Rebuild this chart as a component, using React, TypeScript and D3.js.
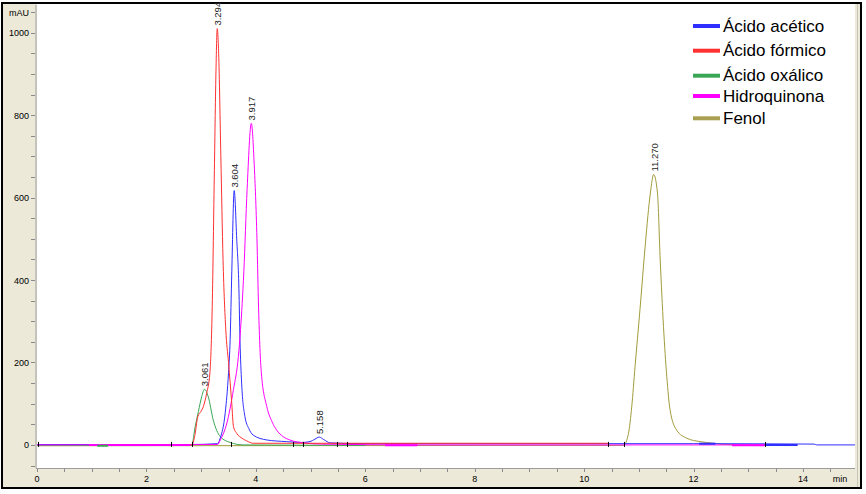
import React from 'react';
import { line, scaleLinear, curveMonotoneX, range } from 'd3';

const ACETICO: [number, number][] = [
  [0, 1], [2.8, 1], [3.3, 3], [3.35, 17], [3.44, 78], [3.5, 175], [3.53, 255], [3.56, 420],
  [3.604, 617], [3.65, 500], [3.69, 380], [3.71, 255], [3.74, 150], [3.8, 69], [3.87, 40],
  [3.95, 24], [4.2, 12], [4.56, 8], [4.84, 6], [4.99, 8], [5.08, 14], [5.158, 19], [5.24, 13],
  [5.36, 5], [6, 3], [10, 3], [12, 3], [14.2, 2], [14.25, 0], [14.95, 0],
];
const FORMICO: [number, number][] = [
  [2.8, 0], [2.83, 0], [2.88, 20], [2.94, 69], [3.0, 82], [3.04, 93], [3.1, 125], [3.16, 175],
  [3.2, 320], [3.24, 650], [3.27, 900], [3.294, 1010], [3.32, 950], [3.36, 700], [3.4, 450],
  [3.45, 280], [3.5, 200], [3.56, 100], [3.59, 45], [3.65, 28], [3.75, 16], [3.83, 10],
  [3.95, 4], [4.2, 4], [10.44, 4],
];
const OXALICO: [number, number][] = [
  [0, -1], [2.8, -1], [2.83, 0], [2.89, 44], [2.95, 81], [3.01, 117], [3.061, 135], [3.13, 117],
  [3.22, 61], [3.35, 20], [3.53, 6], [3.77, 0], [6, -1],
];
const HIDROQUINONA: [number, number][] = [
  [0, 0], [3.3, 1], [3.35, 12], [3.47, 53], [3.59, 134], [3.68, 214], [3.72, 280], [3.78, 420],
  [3.84, 620], [3.917, 780], [3.97, 680], [4.02, 500], [4.05, 330], [4.1, 175], [4.2, 93],
  [4.3, 55], [4.38, 36], [4.5, 20], [4.62, 12], [4.87, 5], [5.2, 2], [7, 0], [13.3, 0],
];
const FENOL: [number, number][] = [
  [0, -2], [10.72, -1], [10.81, 28], [10.87, 93], [10.93, 190], [11.02, 328], [11.12, 490],
  [11.21, 611], [11.27, 656], [11.34, 611], [11.39, 449], [11.45, 287], [11.51, 166],
  [11.57, 85], [11.69, 36], [11.88, 16], [12.12, 8], [12.36, 4], [12.6, 1], [13.9, -1],
];

const SERIES_NAMES = ['Ácido acético', 'Ácido fórmico', 'Ácido oxálico', 'Hidroquinona', 'Fenol'];
const SERIES_COLORS = ['#2f2fff', '#ff3030', '#3aa655', '#ff00ff', '#a09c3c'];
const LEGEND_COLORS = ['#2f2fff', '#ff3030', '#3aa655', '#ff00ff', '#a8a050'];
const SERIES_DATA = [ACETICO, FORMICO, OXALICO, HIDROQUINONA, FENOL];
const DRAW_ORDER = [4, 2, 0, 3, 1];

// etiquetas de tiempo de retencion: [tiempo, altura, texto]
const PEAK_LABELS: [number, number, string][] = [
  [3.294, 1010, '3.294'], [3.917, 780, '3.917'], [3.604, 617, '3.604'],
  [3.061, 135, '3.061'], [5.158, 19, '5.158'], [11.27, 656, '11.270'],
];

// tramos de linea base gruesa: [serie, inicio, fin, valor]
const BASE_SEGMENTS: [number, number, number, number][] = [
  [3, 0.95, 2.8, 0], [2, 1.1, 1.3, -2], [3, 6.36, 6.95, -1], [3, 12.7, 13.3, -1],
  [0, 12.1, 12.4, 3], [0, 13.3, 13.9, 0],
];

// marcas de integracion sobre la linea base
const MARKS = [0.02, 2.45, 2.83, 3.55, 4.67, 4.86, 5.48, 5.66, 10.43, 10.72, 13.3];

const Y_MAJOR = [0, 200, 400, 600, 800, 1000];
const X_MAJOR = [0, 2, 4, 6, 8, 10, 12, 14];

export default function App() {
  const W = 866;
  const H = 494;
  const x = scaleLinear().domain([0, 14.95]).range([37, 855]);
  const y = scaleLinear().domain([-56, 1060]).range([468, 8]);
  const gen = line<[number, number]>()
    .x((d) => x(d[0]))
    .y((d) => y(d[1]))
    .curve(curveMonotoneX);

  const yMinor = range(-50, 1051, 50);
  const xMinor = range(0, 14.9, 0.5);
  const axisFont = '"Liberation Sans", Arial, sans-serif';
  const legendY = [26, 50.7, 75.7, 96, 118.3];

  return (
    <svg
      width={W}
      height={H}
      style={{ position: 'absolute', left: 0, top: 0, background: '#fff' }}
      fontFamily={axisFont}
    >
      <rect x={2} y={3} width={859} height={485} fill="#ece9d8" stroke="#000" strokeWidth={2} />
      <rect x={37} y={4} width={818} height={464} fill="#fff" />
      <line x1={857.5} x2={857.5} y1={4} y2={487} stroke="#c8c6b8" />

      {/* eje Y */}
      <line x1={36} x2={36} y1={5} y2={468} stroke="#9c9c9c" />
      {yMinor.map((v) => (
        <line key={v} x1={31} x2={35} y1={Math.round(y(v)) + 0.5} y2={Math.round(y(v)) + 0.5} stroke="#8a8a8a" />
      ))}
      {Y_MAJOR.map((v) => (
        <text key={v} x={29} y={y(v) + 3.5} fontSize={9} textAnchor="end" fill="#000">
          {v}
        </text>
      ))}
      <text x={29} y={y(1050) + 3.5} fontSize={9} textAnchor="end" fill="#000">mAU</text>

      {/* eje X */}
      <line x1={36} x2={855} y1={468.5} y2={468.5} stroke="#9c9c9c" />
      {xMinor.map((v) => (
        <line key={v} x1={Math.round(x(v)) + 0.5} x2={Math.round(x(v)) + 0.5} y1={469} y2={472} stroke="#8a8a8a" />
      ))}
      {X_MAJOR.map((v) => (
        <text key={v} x={x(v)} y={482} fontSize={9} textAnchor="middle" fill="#000">
          {v}
        </text>
      ))}
      <text x={840} y={482} fontSize={9} textAnchor="middle" fill="#000">min</text>

      {/* cromatogramas */}
      {DRAW_ORDER.map((i) => (
        <path key={i} d={gen(SERIES_DATA[i]) || ''} fill="none" stroke={SERIES_COLORS[i]} strokeWidth={1} />
      ))}
      {BASE_SEGMENTS.map(([s, t0, t1, v], k) => (
        <line key={k} x1={x(t0)} x2={x(t1)} y1={y(v)} y2={y(v)} stroke={SERIES_COLORS[s]} strokeWidth={2} />
      ))}
      {MARKS.map((t) => (
        <line key={t} x1={Math.round(x(t)) + 0.5} x2={Math.round(x(t)) + 0.5} y1={y(0) - 3} y2={y(0) + 2} stroke="#000" />
      ))}

      {PEAK_LABELS.map(([t, v, s]) => (
        <text
          key={s}
          transform={`translate(${x(t) + 4},${y(v) - 3}) rotate(-90)`}
          fontSize={9.5}
          fill="#222"
        >
          {s}
        </text>
      ))}

      {/* leyenda */}
      {SERIES_NAMES.map((name, i) => (
        <g key={name}>
          <line x1={693} x2={720} y1={legendY[i]} y2={legendY[i]} stroke={LEGEND_COLORS[i]} strokeWidth={4} />
          <text x={723} y={legendY[i] + 5.5} fontSize={17} fill="#000">
            {name}
          </text>
        </g>
      ))}
    </svg>
  );
}
